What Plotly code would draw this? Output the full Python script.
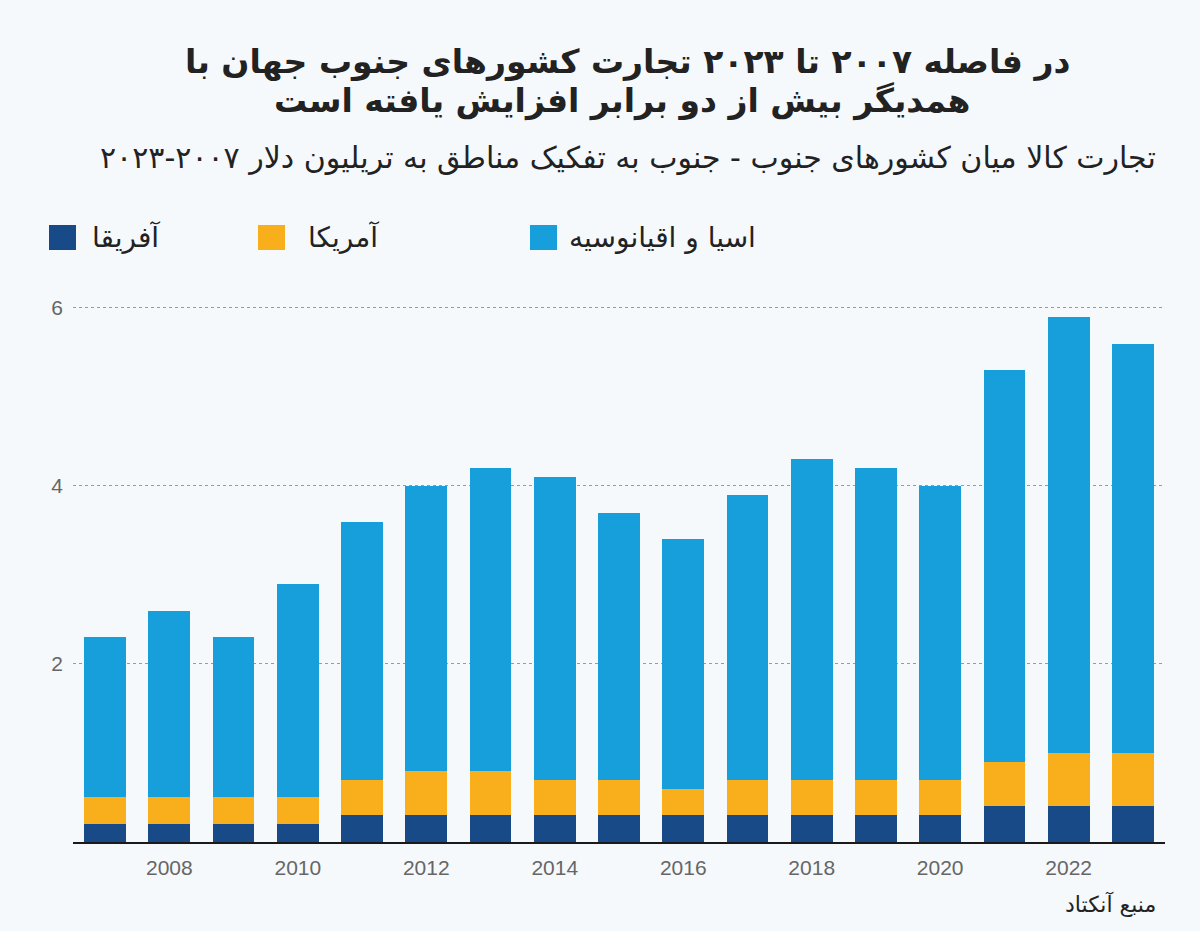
import plotly.graph_objects as go

years = list(range(2007, 2024))
africa = [0.2, 0.2, 0.2, 0.2, 0.3, 0.3, 0.3, 0.3, 0.3, 0.3, 0.3, 0.3, 0.3, 0.3, 0.4, 0.4, 0.4]
america = [0.3, 0.3, 0.3, 0.3, 0.4, 0.5, 0.5, 0.4, 0.4, 0.3, 0.4, 0.4, 0.4, 0.4, 0.5, 0.6, 0.6]
asia = [1.8, 2.1, 1.8, 2.4, 2.9, 3.2, 3.4, 3.4, 3.0, 2.8, 3.2, 3.6, 3.5, 3.3, 4.4, 4.9, 4.6]
series_names = ["آفریقا", "آمریکا", "اسیا و اقیانوسیه"]
colors = ["#174a87", "#f9ae1b", "#179fdc"]
x_ticks = [2008, 2010, 2012, 2014, 2016, 2018, 2020, 2022]
y_ticks = [2, 4, 6]

title_lines = ["در فاصله ۲۰۰۷ تا ۲۰۲۳ تجارت کشورهای جنوب جهان با",
               "همدیگر بیش از دو برابر افزایش یافته است"]
subtitle = "تجارت کالا میان کشورهای جنوب - جنوب به تفکیک مناطق به تریلیون دلار ۲۰۰۷-۲۰۲۳"
source = "منبع آنکتاد"

W, H = 1200, 931
L, R, T, B = 73, 35, 299, 89
BG = "#f5f9fc"
FA = "DejaVu Sans, Noto Sans, sans-serif"


def px(x):
    return (x - L) / (W - L - R)


def py(y):
    return (H - B - y) / (H - T - B)


fig = go.Figure()
for name, vals, c in zip(series_names, [africa, america, asia], colors):
    fig.add_trace(go.Bar(x=years, y=vals, name=name, marker=dict(color=c, line=dict(width=0))))

fig.update_layout(
    width=W, height=H, barmode="stack", bargap=0.35, showlegend=False,
    paper_bgcolor=BG, plot_bgcolor=BG,
    margin=dict(l=L, r=R, t=T, b=B),
    xaxis=dict(range=[2006.5, 2023.5], tickvals=x_ticks, ticktext=[str(v) for v in x_ticks],
               showgrid=False, showline=True, linecolor="#1a1a1a", linewidth=2,
               ticks="", ticklen=0, ticklabelstandoff=6,
               tickfont=dict(family="Liberation Sans, Arial", size=21, color="#666")),
    yaxis=dict(range=[0, 6.1], tickvals=y_ticks, showgrid=True, gridcolor="#9a9a9a",
               griddash="dot", gridwidth=1, zeroline=False, ticks="", ticklabelstandoff=9,
               tickfont=dict(family="Liberation Sans, Arial", size=21, color="#666")),
)

ann = []
ann.append(dict(x=px(627), y=py(62), text=title_lines[0], showarrow=False, xref="paper", yref="paper",
                xanchor="center", yanchor="middle",
                font=dict(family=FA, size=33, color="#222", weight="bold")))
ann.append(dict(x=px(622), y=py(101), text=title_lines[1], showarrow=False, xref="paper", yref="paper",
                xanchor="center", yanchor="middle",
                font=dict(family=FA, size=33, color="#222", weight="bold")))
ann.append(dict(x=px(1158), y=py(157), text=subtitle, showarrow=False, xref="paper", yref="paper",
                xanchor="right", yanchor="middle",
                font=dict(family=FA, size=30, color="#222")))
ann.append(dict(x=px(1158), y=py(904), text=source, showarrow=False, xref="paper", yref="paper",
                xanchor="right", yanchor="middle",
                font=dict(family=FA, size=22, color="#222")))

# custom RTL legend: square to the left of text
leg_sq_left = [49, 258, 530]
leg_text_left = [90, 306, 567]
shapes = []
for name, c, sx, tx in zip(series_names, colors, leg_sq_left, leg_text_left):
    shapes.append(dict(type="rect", xref="paper", yref="paper",
                       x0=px(sx), x1=px(sx + 27), y0=py(250), y1=py(225),
                       fillcolor=c, line=dict(width=0)))
    ann.append(dict(x=px(tx), y=py(237), text=name, showarrow=False, xref="paper", yref="paper",
                    xanchor="left", yanchor="middle",
                    font=dict(family=FA, size=28, color="#222")))

fig.update_layout(annotations=ann, shapes=shapes)
fig.write_html("out.html", config={"displayModeBar": False},
               post_script="document.body.style.margin='0';document.body.style.padding='0';"
                           "document.body.style.background='#f5f9fc';")
